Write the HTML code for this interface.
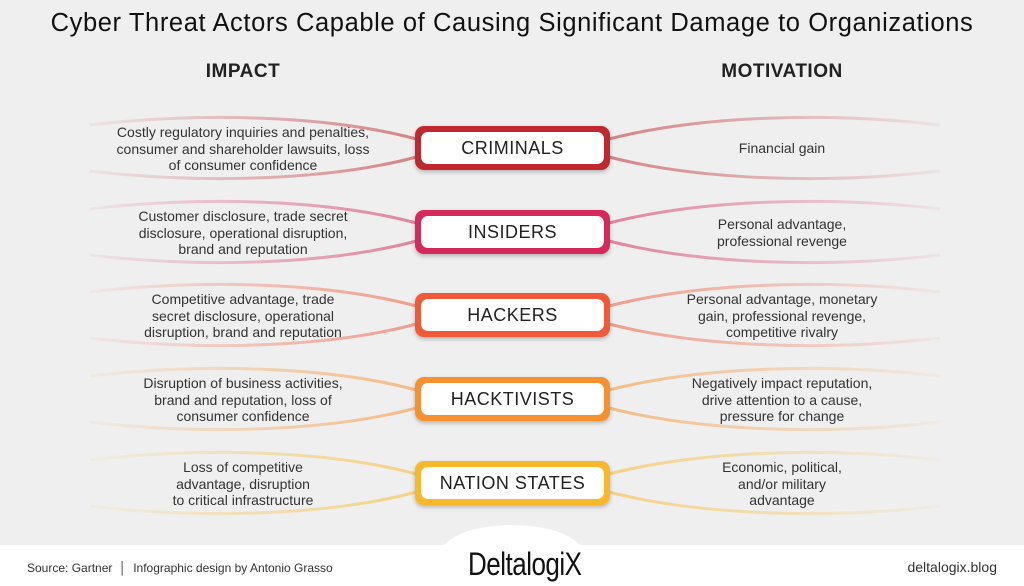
<!DOCTYPE html>
<html><head><meta charset="utf-8"><style>
body{margin:0;width:1024px;height:586px;background:#efefef;font-family:"Liberation Sans",sans-serif;position:relative;overflow:hidden;color:#222}
.t{position:absolute;left:0;width:1024px;text-align:center;top:9px;font-size:25.5px;color:#111;letter-spacing:0.6px}
.h{position:absolute;font-size:19px;font-weight:bold;color:#222;width:300px;text-align:center;top:61px;letter-spacing:.5px}
.tx{position:absolute;width:300px;text-align:center;font-size:14px;line-height:16.5px;color:#333}
.pill{position:absolute;left:415px;width:195px;height:44px;border-radius:9px;box-sizing:border-box;padding:6px 6px;box-shadow:0 2px 4px rgba(0,0,0,.25)}
.pill div{background:#fff;border-radius:7px;height:32px;line-height:32px;text-align:center;font-size:18px;color:#222;letter-spacing:.5px}
.foot{position:absolute;left:0;top:545px;width:1024px;height:41px;background:#fff}
</style></head><body>
<svg width="1024" height="586" style="position:absolute;left:0;top:0">
<defs>
<linearGradient id="fl" gradientUnits="userSpaceOnUse" x1="420" x2="90" y1="0" y2="0"><stop offset="0" stop-color="#fff" stop-opacity="1"/><stop offset="1" stop-color="#fff" stop-opacity="0.1"/></linearGradient>
<linearGradient id="fr" gradientUnits="userSpaceOnUse" x1="605" x2="940" y1="0" y2="0"><stop offset="0" stop-color="#fff" stop-opacity="1"/><stop offset="1" stop-color="#fff" stop-opacity="0.1"/></linearGradient>
<mask id="m"><rect x="0" y="0" width="512" height="586" fill="url(#fl)"/><rect x="512" y="0" width="512" height="586" fill="url(#fr)"/></mask>
<g id="c"><path d="M420 140 C330 115,200 112,90 125"/><path d="M420 156 C330 181,200 184,90 171"/><path d="M605 140 C700 115,830 112,940 125"/><path d="M605 156 C700 181,830 184,940 171"/></g>
</defs>
<g fill="none" stroke-width="3" mask="url(#m)">
<use href="#c" stroke="#c0282f" opacity=".55"/>
<use href="#c" stroke="#d4295a" opacity=".55" y="84"/>
<use href="#c" stroke="#f05a38" opacity=".55" y="167"/>
<use href="#c" stroke="#f7902e" opacity=".55" y="251"/>
<use href="#c" stroke="#f9b82a" opacity=".55" y="335"/>
</g>
</svg>
<div class="t">Cyber Threat Actors Capable of Causing Significant Damage to Organizations</div>
<div class="h" style="left:93px">IMPACT</div>
<div class="h" style="left:632px">MOTIVATION</div>

<div class="tx" style="left:93px;top:124px">Costly regulatory inquiries and penalties,<br>consumer and shareholder lawsuits, loss<br>of consumer confidence</div>
<div class="tx" style="left:632px;top:140px">Financial gain</div>
<div class="pill" style="top:126px;background:#c0282f"><div>CRIMINALS</div></div>

<div class="tx" style="left:93px;top:208px">Customer disclosure, trade secret<br>disclosure, operational disruption,<br>brand and reputation</div>
<div class="tx" style="left:632px;top:216px">Personal advantage,<br>professional revenge</div>
<div class="pill" style="top:210px;background:#d4295a"><div>INSIDERS</div></div>

<div class="tx" style="left:93px;top:291px">Competitive advantage, trade<br>secret disclosure, operational<br>disruption, brand and reputation</div>
<div class="tx" style="left:632px;top:291px">Personal advantage, monetary<br>gain, professional revenge,<br>competitive rivalry</div>
<div class="pill" style="top:293px;background:#f05a38"><div>HACKERS</div></div>

<div class="tx" style="left:93px;top:375px">Disruption of business activities,<br>brand and reputation, loss of<br>consumer confidence</div>
<div class="tx" style="left:632px;top:375px">Negatively impact reputation,<br>drive attention to a cause,<br>pressure for change</div>
<div class="pill" style="top:377px;background:#f7902e"><div>HACKTIVISTS</div></div>

<div class="tx" style="left:93px;top:459px">Loss of competitive<br>advantage, disruption<br>to critical infrastructure</div>
<div class="tx" style="left:632px;top:459px">Economic, political,<br>and/or military<br>advantage</div>
<div class="pill" style="top:461px;background:#f9b82a"><div>NATION STATES</div></div>

<div class="foot"></div>
<div style="position:absolute;left:440px;top:525px;width:144px;height:60px;border-radius:50%;background:#fff"></div>
<div style="position:absolute;left:27px;top:561px;font-size:12px;color:#333">Source: Gartner &nbsp;│&nbsp; Infographic design by Antonio Grasso</div>
<div style="position:absolute;left:468px;top:545px;font-size:26px;color:#111;letter-spacing:-0.5px;transform:scaleY(1.25);transform-origin:top">DeltalogiX</div>
<div style="position:absolute;right:27px;top:559px;font-size:14px;color:#333">deltalogix.blog</div>
</body></html>
